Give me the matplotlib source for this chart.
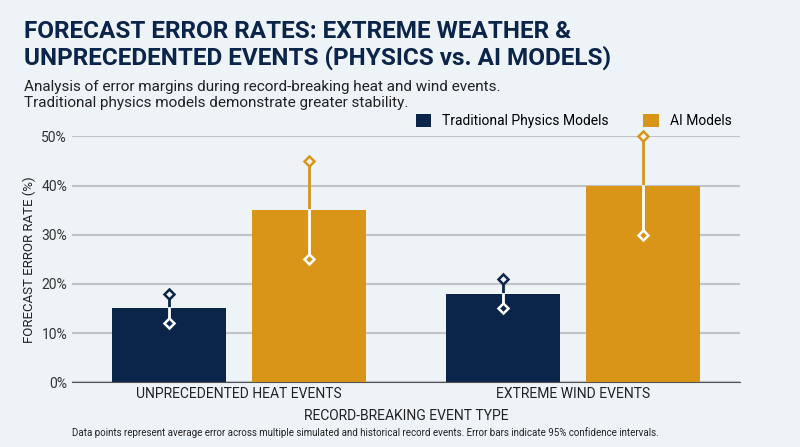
import matplotlib
matplotlib.use("Agg")
import matplotlib.pyplot as plt
import numpy as np

categories = ["UNPRECEDENTED HEAT EVENTS", "EXTREME WIND EVENTS"]
series = ["Traditional Physics Models", "AI Models"]
values = {"Traditional Physics Models": [15, 18], "AI Models": [35, 40]}
lower = {"Traditional Physics Models": [12, 15], "AI Models": [25, 30]}
upper = {"Traditional Physics Models": [18, 21], "AI Models": [45, 50]}
colors = {"Traditional Physics Models": "#0b2449", "AI Models": "#d99517"}
yticks = [0, 10, 20, 30, 40, 50]

bg = "#eef3f7"
plt.rcParams['font.family'] = ['Roboto', 'DejaVu Sans']
fig = plt.figure(figsize=(8, 4.47), dpi=100, facecolor=bg)
ax = fig.add_axes([0.09, 0.145, 0.835, 0.55], facecolor=bg)

x = np.arange(len(categories))
w = 0.34
offs = [-0.21, 0.21]
for s, o in zip(series, offs):
    c = colors[s]
    xs = x + o
    ax.bar(xs, values[s], w, color=c, label=s, zorder=2)
    for xi, v, lo, hi in zip(xs, values[s], lower[s], upper[s]):
        ax.plot([xi, xi], [v, hi], color=c, lw=2, zorder=3, clip_on=False)
        ax.plot([xi, xi], [lo, v], color="white", lw=2, zorder=3)
        ax.plot(xi, hi, marker="D", ms=5, mfc=bg, mec=c, mew=1.8, zorder=4, clip_on=False)
        ax.plot(xi, lo, marker="D", ms=5, mfc=c, mec="white", mew=1.8, zorder=4)

ax.set_xlim(-0.5, 1.5)
ax.set_ylim(0, 50)
ax.set_yticks(yticks)
ax.set_yticklabels([f"{t}%" for t in yticks], fontsize=10, color="#333")
ax.set_xticks(x)
ax.set_xticklabels(categories, fontsize=10, color="#222")
ax.tick_params(length=0)
ax.grid(axis="y", color="#c0c4c8", lw=1.5, zorder=0)
for sp in ["top", "right", "left"]:
    ax.spines[sp].set_visible(False)
ax.spines["bottom"].set_color("#555")
ax.set_ylabel("FORECAST ERROR RATE (%)", fontsize=9.5, color="#222")
ax.set_xlabel("RECORD-BREAKING EVENT TYPE", fontsize=10, color="#222", labelpad=6)

ax.legend(loc="lower right", bbox_to_anchor=(1.0, 1.0), ncol=2, frameon=False,
          fontsize=10, handlelength=1.1, handleheight=1.1, columnspacing=2.5, borderaxespad=0.2)

fig.text(0.03, 0.955, "FORECAST ERROR RATES: EXTREME WEATHER &\nUNPRECEDENTED EVENTS (PHYSICS vs. AI MODELS)",
         fontsize=17.5, fontweight="bold", color="#0b2449", va="top", linespacing=1.15)
fig.text(0.03, 0.82, "Analysis of error margins during record-breaking heat and wind events.\nTraditional physics models demonstrate greater stability.",
         fontsize=11, color="#222", va="top", linespacing=1.15)
fig.text(0.09, 0.025, "Data points represent average error across multiple simulated and historical record events. Error bars indicate 95% confidence intervals.",
         fontsize=7, color="#222")
fig.savefig("out.png", dpi=100, facecolor=bg)
